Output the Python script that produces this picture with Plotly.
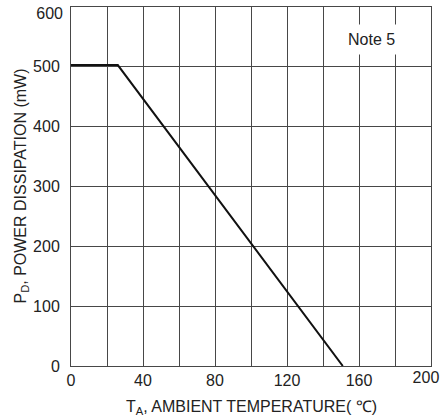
import plotly.graph_objects as go

temp_c = [0, 26, 151]
power_mw = [503, 503, 0]
x_ticks = [0, 40, 80, 120, 160]
x_edge_tick = [197.2]
x_edge_text = ["200"]
y_ticks = [0, 100, 200, 300, 400, 500]
y_edge_tick = [590]
y_edge_text = ["600"]

fig = go.Figure()
fig.add_trace(go.Scatter(x=temp_c, y=power_mw, mode="lines",
                         line=dict(color="#111111", width=2), showlegend=False))

grid = "#474747"
tick_font = dict(size=16, color="#222")
fig.update_layout(
    xaxis=dict(range=[0, 200], tickvals=x_ticks,
               showgrid=True, gridcolor=grid, gridwidth=1,
               minor=dict(dtick=20, showgrid=True, gridcolor=grid, gridwidth=1),
               showline=True, linecolor=grid, linewidth=1, mirror=True, zeroline=False,
               ticks="", tickfont=tick_font, ticklabelstandoff=0,
               ticklabeloverflow="allow", automargin=False),
    xaxis2=dict(range=[0, 200], overlaying="x", side="bottom", anchor="y",
                tickvals=x_edge_tick, ticktext=x_edge_text, showgrid=False,
                showline=False, zeroline=False, ticks="", tickfont=tick_font,
                ticklabelstandoff=0, ticklabeloverflow="allow", automargin=False),
    yaxis=dict(range=[0, 600], tickvals=y_ticks, showgrid=True, gridcolor=grid, gridwidth=1,
               minor=dict(dtick=100, showgrid=True, gridcolor=grid, gridwidth=1),
               showline=True, linecolor=grid, linewidth=1, mirror=True, zeroline=False,
               ticks="", tickfont=tick_font, ticklabelstandoff=7,
               ticklabeloverflow="allow", automargin=False),
    yaxis2=dict(range=[0, 600], overlaying="y", side="left", anchor="x",
                tickvals=y_edge_tick, ticktext=y_edge_text, showgrid=False,
                showline=False, zeroline=False, ticks="", tickfont=tick_font,
                ticklabelstandoff=7, ticklabeloverflow="allow", automargin=False),
)
fig.add_trace(go.Scatter(x=[None], y=[None], xaxis="x2", yaxis="y2", showlegend=False,
                         hoverinfo="skip"))

fig.add_annotation(x=167, y=546, xref="x", yref="y", text="Note 5", showarrow=False,
                   bgcolor="white", font=dict(size=16, color="#222"),
                   borderpad=6)
fig.add_annotation(x=0.5, y=0, xref="paper", yref="paper", yanchor="middle", yshift=-41,
                   text="T<sub>A</sub>, AMBIENT TEMPERATURE( \u2103)", showarrow=False,
                   font=dict(size=16, color="#222"))
fig.add_annotation(x=0, y=0.5, xref="paper", yref="paper", xanchor="center", xshift=-50,
                   text="P<sub>D</sub>, POWER DISSIPATION (mW)", showarrow=False, textangle=-90,
                   font=dict(size=16, color="#222"))

fig.update_layout(width=440, height=419, margin=dict(l=71, r=9, t=7, b=53),
                  plot_bgcolor="white", paper_bgcolor="white",
                  font=dict(family="Liberation Sans, Arial, sans-serif"))
fig.write_html("out.html")
